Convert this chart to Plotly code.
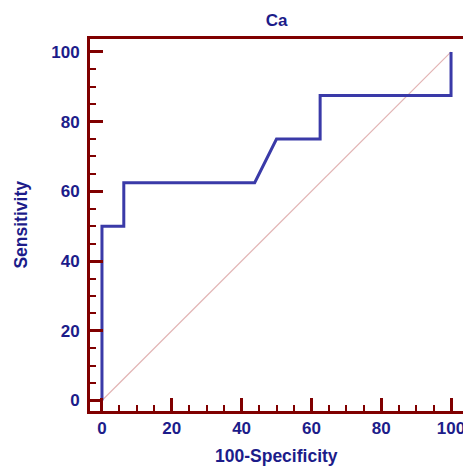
import plotly.graph_objects as go

# ROC curve data (100-Specificity vs Sensitivity)
fpr = [0, 0, 6.25, 6.25, 43.75, 50, 62.5, 62.5, 100, 100]
tpr = [0, 50, 50, 62.5, 62.5, 75, 75, 87.5, 87.5, 100]
diag_x = [0, 100]
diag_y = [0, 100]
tick_vals = [0, 20, 40, 60, 80, 100]
tick_text = ["0", "20", "40", "60", "80", "100"]

AXIS = "#800000"
TEXT = "#1c1c8a"
LINE = "#3a3aa8"
FONT = "Liberation Sans, Arial, sans-serif"

W, H = 463, 468
L, T, B, R = 89.5, 38.5, 56.5, 0
PW, PH = W - L - R, H - T - B

fig = go.Figure()
fig.add_trace(go.Scatter(x=diag_x, y=diag_y, mode="lines",
                         line=dict(color="#e2b4b4", width=1.2), hoverinfo="skip"))
fig.add_trace(go.Scatter(x=fpr, y=tpr, mode="lines",
                         line=dict(color=LINE, width=3)))

axis_common = dict(
    automargin=False,
    showgrid=False, zeroline=False, showline=True, linecolor=AXIS, linewidth=3,
    ticks="inside", ticklen=13, tickwidth=2.5, tickcolor=AXIS,
    tickvals=tick_vals, ticktext=tick_text, ticklabeloverflow="allow",
    tickfont=dict(family=FONT, size=17, color=TEXT, weight="bold"),
    minor=dict(dtick=5, ticks="inside", ticklen=6, tickwidth=1.5, tickcolor=AXIS),
)

fig.update_layout(
    width=W, height=H,
    margin=dict(l=L, r=R, t=T, b=B, autoexpand=False),
    paper_bgcolor="white", plot_bgcolor="white",
    showlegend=False,
    title=dict(text="<b>Ca</b>", x=0.5, xref="paper", y=1 - 20 / H, yref="container",
               xanchor="center", yanchor="middle",
               font=dict(family=FONT, size=17, color=TEXT)),
    xaxis=dict(axis_common, range=[-3.43, 103.43], mirror=True),
    yaxis=dict(axis_common, range=[-3.0, 103.7], ticklabelstandoff=4),
    annotations=[
        dict(text="<b>100-Specificity</b>", xref="paper", yref="paper",
             x=(276 - L) / PW, y=-(457 - (H - B)) / PH, xanchor="center", yanchor="middle",
             showarrow=False, font=dict(family=FONT, size=17.5, color=TEXT)),
        dict(text="<b>Sensitivity</b>", xref="paper", yref="paper",
             x=-(L - 20) / PW, y=(H - B - 225) / PH, xanchor="center", yanchor="middle",
             showarrow=False, textangle=-90, font=dict(family=FONT, size=17.5, color=TEXT)),
    ],
)

fig.write_html("out.html", config={"displayModeBar": False},
               post_script="document.body.style.margin='0';document.body.style.overflow='hidden';")
